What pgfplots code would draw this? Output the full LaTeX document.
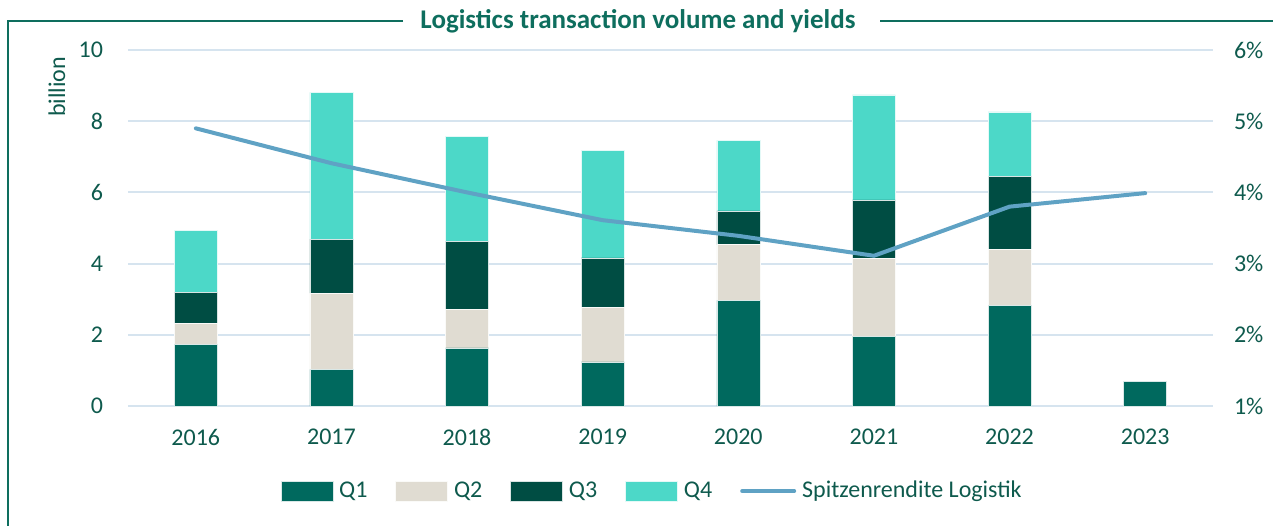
\documentclass[border=0pt]{standalone}
\usepackage{pgfplots}
\pgfplotsset{compat=1.18}
\usepackage{fontspec}
\setmainfont{Carlito}
\definecolor{qone}{HTML}{00695E}
\definecolor{qtwo}{HTML}{E0DCD2}
\definecolor{qthree}{HTML}{004D43}
\definecolor{qfour}{HTML}{4CD8C8}
\definecolor{yieldc}{HTML}{5FA2C4}
\definecolor{txt}{HTML}{0E5A4D}
\definecolor{framec}{HTML}{0E6E5E}
\definecolor{gridc}{HTML}{D6E4EF}
\pgfplotsset{yieldleg/.style={legend image code/.code={\draw[##1] (0pt,0pt) -- (26pt,0pt);}}}
\begin{document}
\begin{tikzpicture}
\useasboundingbox (-64pt,-59.5pt) rectangle (572.5pt,203pt);
\pgfplotsset{
  common/.style={
    scale only axis, width=542.5pt, height=178pt,
    at={(0,0)}, anchor=south west,
    xmin=-0.5, xmax=7.5,
    axis line style={draw=none}, tick style={draw=none},
    font=\fontsize{12}{14}\selectfont,
    every tick label/.append style={text=txt},
    /pgf/number format/assume math mode=true,
  }
}
\begin{axis}[common,
  ymin=0, ymax=10, ytick={0,2,...,10},
  xtick={0,...,7}, xticklabels={2016,2017,2018,2019,2020,2021,2022,2023},
  ybar stacked, bar width=21.5pt,
  ymajorgrids, grid style={gridc, line width=1pt},
  yticklabel style={xshift=-9pt},
  xticklabel style={yshift=-8pt},
  legend style={at={(0.484,-0.239)}, anchor=center, draw=none, fill=none,
    legend columns=5, font=\fontsize{12}{14}\selectfont, text=txt,
    /tikz/every even column/.append style={column sep=12pt},
    /tikz/every odd column/.append style={column sep=1pt}},
  legend image code/.code={\fill[#1] (0pt,-5pt) rectangle (26pt,5pt);},
]
\addplot[fill=qone, draw=white!85!qone, line width=0.3pt] coordinates {(0,1.73)(1,1.03)(2,1.63)(3,1.24)(4,2.97)(5,1.95)(6,2.83)(7,0.70)};
\addplot[fill=qtwo, draw=white!85!qtwo, line width=0.3pt] coordinates {(0,0.58)(1,2.14)(2,1.09)(3,1.52)(4,1.56)(5,2.20)(6,1.58)(7,0)};
\addplot[fill=qthree, draw=white!85!qthree, line width=0.3pt] coordinates {(0,0.87)(1,1.52)(2,1.91)(3,1.40)(4,0.95)(5,1.64)(6,2.03)(7,0)};
\addplot[fill=qfour, draw=white!85!qfour, line width=0.3pt] coordinates {(0,1.75)(1,4.12)(2,2.95)(3,3.03)(4,1.98)(5,2.95)(6,1.82)(7,0)};
\addlegendentry{Q1}
\addlegendentry{Q2}
\addlegendentry{Q3}
\addlegendentry{Q4}
\addlegendimage{draw=yieldc, line width=2pt, line cap=round, yieldleg}
\addlegendentry{Spitzenrendite Logistik}
\end{axis}
\begin{axis}[common,
  ymin=1, ymax=6, ytick={1,...,6},
  yticklabels={1\%,2\%,3\%,4\%,5\%,6\%},
  hide x axis, yticklabel pos=right,
  yticklabel style={xshift=7pt},
]
\addplot[yieldc, line width=2pt, line cap=round] coordinates {(0,4.90)(1,4.41)(2,4.00)(3,3.61)(4,3.39)(5,3.11)(6,3.80)(7,3.99)};
\end{axis}
\draw[framec, line width=1pt] (137.5pt,192.5pt) -- (-60pt,192.5pt) -- (-60pt,-60pt);
\draw[framec, line width=1pt] (376pt,192.5pt) -- (573pt,192.5pt);
\node[text=framec, font=\bfseries\fontsize{13.5}{16}\selectfont] at (255pt,192.5pt) {Logistics transaction volume and yields};
\node[rotate=90, text=txt, font=\fontsize{12}{14}\selectfont] at (-35.5pt,159.5pt) {billion};
\end{tikzpicture}
\end{document}
